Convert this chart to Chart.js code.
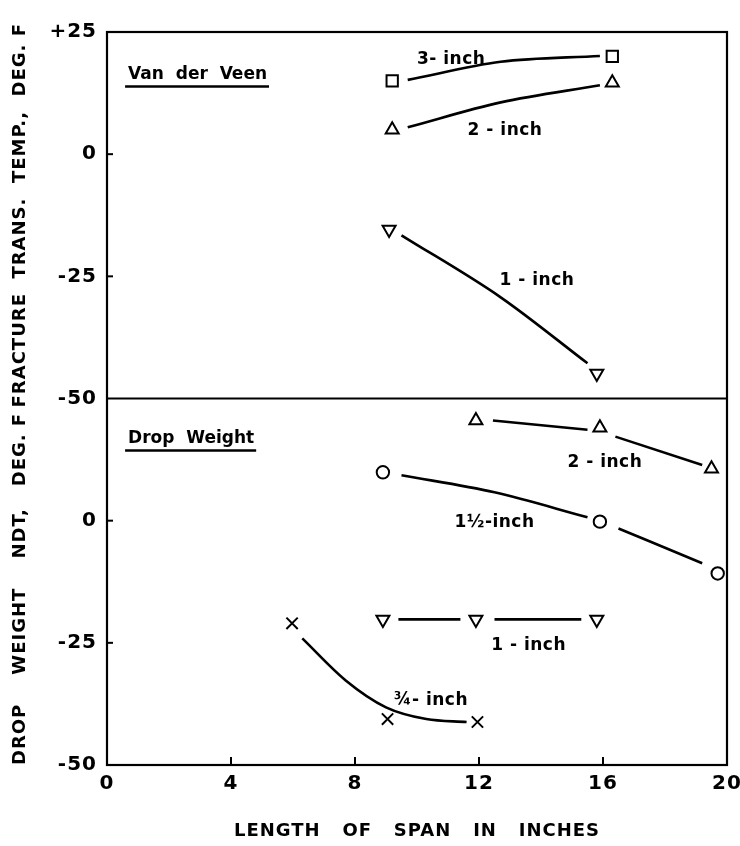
<!DOCTYPE html>
<html>
<head>
<meta charset="utf-8">
<script src="https://cdn.jsdelivr.net/npm/chart.js@4/dist/chart.umd.min.js"></script>
<style>
  html, body { margin: 0; padding: 0; background: #fff; }
  #wrap { width: 740px; height: 846px; }
</style>
</head>
<body>
<div id="wrap"><canvas id="c" width="740" height="846"></canvas></div>
<script>
// ---------- Data ----------
// Upper panel: Van der Veen fracture transition temperature (deg F) vs span (in)
const vdv3Span = [9.2, 16.3];
const vdv3Temp = [15, 20];
const vdv2Span = [9.2, 16.3];
const vdv2Temp = [5, 14.6];
const vdv1Span = [9.1, 15.8];
const vdv1Temp = [-15.4, -44.9];

// Lower panel: Drop weight NDT (deg F) vs span (in)
const dw2Span = [11.9, 15.9, 19.5];
const dw2Temp = [20.5, 19.0, 10.6];
const dw15Span = [8.9, 15.9, 19.7];
const dw15Temp = [9.9, -0.2, -10.8];
const dw1Span = [8.9, 11.9, 15.8];
const dw1Temp = [-20.2, -20.2, -20.2];
const dw075Span = [5.97, 9.05, 11.95];
const dw075Temp = [-21, -40.6, -41.2];

// Hand-drawn fairing curves
const vdv3CurveSpan = [9.7, 12.7, 15.9];
const vdv3CurveTemp = [15.2, 18.9, 20.1];
const vdv2CurveSpan = [9.7, 12.7, 15.9];
const vdv2CurveTemp = [5.5, 10.6, 14.1];
const vdv1CurveSpan = [9.5, 12.7, 15.5];
const vdv1CurveTemp = [-16.6, -29.3, -42.8];
const dw2CurveASpan = [12.45, 15.5];
const dw2CurveATemp = [20.5, 18.6];
const dw2CurveBSpan = [16.4, 19.2];
const dw2CurveBTemp = [17.2, 11.4];
const dw15CurveASpan = [9.5, 12.5, 15.5];
const dw15CurveATemp = [9.3, 5.8, 0.7];
const dw15CurveBSpan = [16.5, 19.2];
const dw15CurveBTemp = [-1.6, -8.7];
const dw1CurveASpan = [9.4, 11.4];
const dw1CurveATemp = [-20.2, -20.2];
const dw1CurveBSpan = [12.5, 15.3];
const dw1CurveBTemp = [-20.2, -20.2];
const dw075CurveSpan = [6.3, 7.7, 9.0, 10.3, 11.6];
const dw075CurveTemp = [-24.1, -32.7, -38.2, -40.6, -41.2];

// Axis ticks
const xTicks = [0, 4, 8, 12, 16, 20];
const yTicks = [-50, -25, 0, 25];

// Text labels
const panelLabels = ["Van  der  Veen", "Drop  Weight"];
const curveLabels = ["3- inch", "2 - inch", "1 - inch", "2 - inch", "1½-inch", "1 - inch", "¾- inch"];

// ---------- Build chart ----------
const pts = (xs, ys) => xs.map((x, i) => ({ x: x, y: ys[i] }));
const FONT = "'DejaVu Sans', 'Liberation Sans', sans-serif";

function markers(label, xs, ys, axis, style, radius, rotation) {
  return {
    label: label, data: pts(xs, ys), yAxisID: axis, showLine: false,
    pointStyle: style, pointRadius: radius, pointRotation: rotation || 0,
    pointBorderColor: '#000', pointBackgroundColor: '#fff', pointBorderWidth: 2,
    borderColor: '#000', backgroundColor: '#fff'
  };
}
function curve(label, xs, ys, axis) {
  return {
    label: label, data: pts(xs, ys), yAxisID: axis, showLine: true,
    pointRadius: 0, borderColor: '#000', borderWidth: 2.6,
    cubicInterpolationMode: 'monotone', fill: false
  };
}

const datasets = [
  curve('vdv3c', vdv3CurveSpan, vdv3CurveTemp, 'yTop'),
  curve('vdv2c', vdv2CurveSpan, vdv2CurveTemp, 'yTop'),
  curve('vdv1c', vdv1CurveSpan, vdv1CurveTemp, 'yTop'),
  curve('dw2a', dw2CurveASpan, dw2CurveATemp, 'yBot'),
  curve('dw2b', dw2CurveBSpan, dw2CurveBTemp, 'yBot'),
  curve('dw15a', dw15CurveASpan, dw15CurveATemp, 'yBot'),
  curve('dw15b', dw15CurveBSpan, dw15CurveBTemp, 'yBot'),
  curve('dw1a', dw1CurveASpan, dw1CurveATemp, 'yBot'),
  curve('dw1b', dw1CurveBSpan, dw1CurveBTemp, 'yBot'),
  curve('dw075c', dw075CurveSpan, dw075CurveTemp, 'yBot'),
  markers('3-inch VdV', vdv3Span, vdv3Temp, 'yTop', 'rect', 8),
  markers('2-inch VdV', vdv2Span, vdv2Temp, 'yTop', 'triangle', 7.5),
  markers('1-inch VdV', vdv1Span, vdv1Temp, 'yTop', 'triangle', 7.5, 180),
  markers('2-inch DW', dw2Span, dw2Temp, 'yBot', 'triangle', 7.5),
  markers('1½-inch DW', dw15Span, dw15Temp, 'yBot', 'circle', 6.2),
  markers('1-inch DW', dw1Span, dw1Temp, 'yBot', 'triangle', 7.5, 180),
  markers('¾-inch DW', dw075Span, dw075Temp, 'yBot', 'crossRot', 8)
];

// label placement (data units) kept separate from the data
const labelPlaces = [
  { axis: 'yTop', x: 11.1, y: 19.4, text: curveLabels[0] },
  { axis: 'yTop', x: 12.84, y: 4.9, text: curveLabels[1] },
  { axis: 'yTop', x: 13.87, y: -25.8, text: curveLabels[2] },
  { axis: 'yBot', x: 16.06, y: 11.9, text: curveLabels[3] },
  { axis: 'yBot', x: 12.5, y: -0.4, text: curveLabels[4] },
  { axis: 'yBot', x: 13.6, y: -25.5, text: curveLabels[5] },
  { axis: 'yBot', x: 10.45, y: -36.8, text: curveLabels[6] }
];
const panelPlaces = [
  { axis: 'yTop', x: 0.68, y: 16.3, text: panelLabels[0] },
  { axis: 'yBot', x: 0.68, y: 16.8, text: panelLabels[1] }
];

const framePlugin = {
  id: 'frame',
  beforeDraw(chart) {
    chart.ctx.letterSpacing = '1px';
  },
  afterDatasetsDraw(chart) {
    const { ctx, chartArea: a, scales } = chart;
    ctx.save();
    ctx.letterSpacing = '0px';
    ctx.strokeStyle = '#000';
    ctx.lineWidth = 2.2;
    ctx.strokeRect(a.left, a.top, a.right - a.left, a.bottom - a.top);
    const mid = scales.yTop.bottom;
    ctx.beginPath(); ctx.moveTo(a.left, mid); ctx.lineTo(a.right, mid); ctx.stroke();
    // inward ticks
    ctx.lineWidth = 2;
    ['yTop', 'yBot'].forEach(id => {
      const s = scales[id];
      s.ticks.forEach(t => {
        if (t.value === s.min || t.value === s.max) return;
        const py = s.getPixelForValue(t.value);
        ctx.beginPath(); ctx.moveTo(a.left, py); ctx.lineTo(a.left + 6, py); ctx.stroke();
      });
    });
    const sx = scales.x;
    sx.ticks.forEach(t => {
      if (t.value === sx.min || t.value === sx.max) return;
      const px = sx.getPixelForValue(t.value);
      ctx.beginPath(); ctx.moveTo(px, a.bottom); ctx.lineTo(px, a.bottom - 8); ctx.stroke();
    });
    // curve labels
    ctx.fillStyle = '#000';
    ctx.font = 'bold 17px ' + FONT;
    ctx.textAlign = 'center';
    ctx.textBaseline = 'middle';
    ctx.letterSpacing = '0.5px';
    labelPlaces.forEach(l => {
      ctx.fillText(l.text, sx.getPixelForValue(l.x), scales[l.axis].getPixelForValue(l.y));
    });
    // panel labels with underline
    ctx.textAlign = 'left';
    ctx.letterSpacing = '0px';
    ctx.font = 'bold 17px ' + FONT;
    panelPlaces.forEach(l => {
      const px = sx.getPixelForValue(l.x);
      const py = scales[l.axis].getPixelForValue(l.y);
      ctx.fillText(l.text, px, py);
      const w = ctx.measureText(l.text).width;
      ctx.lineWidth = 2.4;
      ctx.beginPath(); ctx.moveTo(px - 3, py + 12); ctx.lineTo(px + w + 2, py + 12); ctx.stroke();
    });
    ctx.restore();
  }
};

const tickFont = { family: FONT, size: 20, weight: 'bold' };
const titleFont = { family: FONT, size: 18, weight: 'bold' };

new Chart(document.getElementById('c'), {
  type: 'scatter',
  data: { datasets: datasets },
  options: {
    responsive: false,
    animation: false,
    layout: { padding: { top: 32, right: 13, left: 0, bottom: 0 } },
    plugins: { legend: { display: false }, tooltip: { enabled: false } },
    scales: {
      x: {
        type: 'linear', min: 0, max: 20,
        afterBuildTicks: s => { s.ticks = xTicks.map(v => ({ value: v })); },
        ticks: { color: '#000', font: tickFont, padding: 7 },
        grid: { display: false, drawTicks: false }, border: { display: false },
        title: { display: true, text: 'LENGTH   OF   SPAN   IN   INCHES', color: '#000', font: titleFont, padding: { top: 22 } },
        afterFit: s => { s.height = 81; s.paddingRight = 13; }
      },
      yBot: {
        type: 'linear', position: 'left', stack: 'panels', stackWeight: 1,
        min: -50, max: 25,
        afterBuildTicks: s => { s.ticks = yTicks.map(v => ({ value: v })); },
        ticks: { color: '#000', font: tickFont, padding: 10,
          callback: v => (v === 25 ? '' : String(v)) },
        grid: { display: false, drawTicks: false }, border: { display: false },
        title: { display: true, align: 'start', text: 'DROP    WEIGHT    NDT,   DEG. F', color: '#000', font: titleFont, padding: { top: 10, bottom: 0 } },
        afterFit: s => { s.width = 107; }
      },
      yTop: {
        type: 'linear', position: 'left', stack: 'panels', stackWeight: 1,
        min: -50, max: 25,
        afterBuildTicks: s => { s.ticks = yTicks.map(v => ({ value: v })); },
        ticks: { color: '#000', font: tickFont, padding: 10,
          callback: v => (v > 0 ? '+' + v : String(v)) },
        grid: { display: false, drawTicks: false }, border: { display: false },
        title: { display: true, text: 'FRACTURE  TRANS.  TEMP.,  DEG. F', color: '#000', font: titleFont, padding: { top: 10, bottom: 0 } },
        afterFit: s => { s.width = 107; }
      }
    }
  },
  plugins: [framePlugin]
});
</script>
</body>
</html>
